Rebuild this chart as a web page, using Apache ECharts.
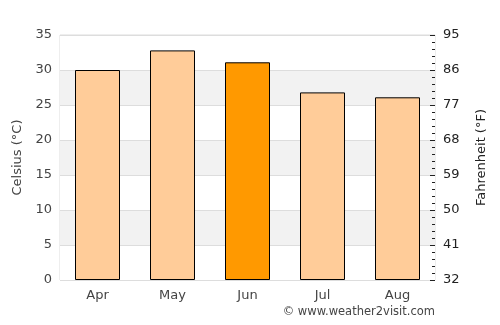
<!DOCTYPE html>
<html>
<head>
<meta charset="utf-8">
<script src="https://cdn.jsdelivr.net/npm/echarts@6/dist/echarts.min.js"></script>
<style>
  html, body { margin: 0; padding: 0; background: #fff; }
  #chart { width: 500px; height: 325px; }
</style>
</head>
<body>
<div id="chart"></div>
<script>
const months = ['Apr', 'May', 'Jun', 'Jul', 'Aug'];
const tempC = [30, 32.8, 31.1, 26.8, 26.1];
const highlightMonth = 'Jun';

const FONT = 'DejaVu Sans';
const chart = echarts.init(document.getElementById('chart'), null, { renderer: 'canvas' });

const barData = months.map((m, i) => ({
  value: tempC[i],
  itemStyle: { color: m === highlightMonth ? '#ff9900' : '#ffcc99' }
}));

const option = {
  animation: false,
  backgroundColor: '#fff',
  textStyle: { fontFamily: FONT },
  grid: {
    left: 60, right: 65, top: 35, bottom: 45,
    show: true, borderColor: '#dddddd', borderWidth: 1
  },
  xAxis: {
    type: 'category',
    data: months,
    axisLine: { show: false },
    axisTick: { show: false },
    axisLabel: { color: '#444', fontSize: 13, margin: 9, fontFamily: FONT }
  },
  yAxis: [
    {
      type: 'value',
      min: 0, max: 35, interval: 5,
      name: 'Celsius (°C)',
      nameLocation: 'middle',
      nameGap: 36,
      nameTextStyle: { color: '#444', fontSize: 13, fontFamily: FONT },
      axisLine: { show: false },
      axisTick: { show: false },
      axisLabel: { color: '#444', fontSize: 13, margin: 8, fontFamily: FONT },
      splitLine: { show: true, lineStyle: { color: '#dddddd', width: 1 } },
      splitArea: { show: true, areaStyle: { color: ['#ffffff', '#f2f2f2'] } }
    },
    {
      type: 'value',
      position: 'right',
      min: 0, max: 35, interval: 5,
      name: 'Fahrenheit (°F)',
      nameLocation: 'middle',
      nameGap: 40,
      nameTextStyle: { color: '#222', fontSize: 13, fontFamily: FONT },
      axisLine: { show: false },
      axisTick: { show: true, inside: true, length: 5, lineStyle: { color: '#222' } },
      minorTick: { show: true, splitNumber: 5, length: 3, lineStyle: { color: '#222' } },
      axisLabel: {
        color: '#222', fontSize: 13, margin: 8, fontFamily: FONT,
        formatter: v => String(Math.round(v * 9 / 5 + 32))
      },
      splitLine: { show: false },
      splitArea: { show: false }
    }
  ],
  series: [
    {
      type: 'bar',
      yAxisIndex: 0,
      data: barData,
      barWidth: '60%',
      itemStyle: { borderColor: '#000', borderWidth: 1 }
    }
  ],
  graphic: [
    {
      type: 'text',
      right: 65,
      top: 306,
      style: {
        text: '© www.weather2visit.com',
        fill: '#444',
        font: '11.5px "DejaVu Sans"'
      }
    }
  ]
};

chart.setOption(option);
</script>
</body>
</html>
